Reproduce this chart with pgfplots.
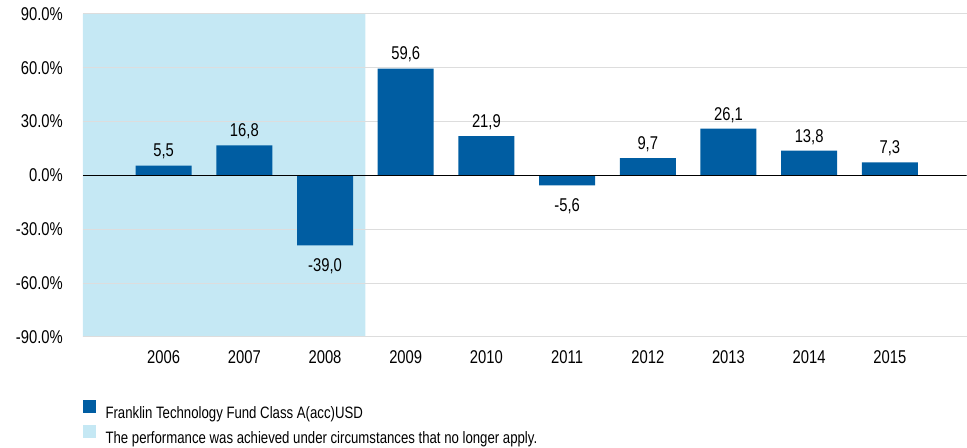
\documentclass[border=0pt]{standalone}
\usepackage{pgfplots}
\pgfplotsset{compat=1.18}
\usepackage{fontspec}
\setmainfont{Liberation Sans}[FakeStretch=0.8]
\definecolor{barblue}{HTML}{005DA2}
\definecolor{lightshade}{HTML}{C5E8F4}
\definecolor{gridgray}{HTML}{DDDDDD}
\newcommand{\lblfont}{\fontsize{18.5}{21}\selectfont}
\begin{document}
\begin{tikzpicture}
\path (0,0) rectangle (967pt,448pt);
\begin{axis}[
  set layers,
  at={(83pt,111pt)}, anchor=south west,
  scale only axis, width=884pt, height=323pt,
  xmin=-1, xmax=9.95, ymin=-90, ymax=90,
  axis line style={draw=none},
  ytick={-90,-60,-30,0,30,60,90},
  yticklabels={-90.0\%,-60.0\%,-30.0\%,0.0\%,30.0\%,60.0\%,90.0\%},
  xtick={0,1,2,3,4,5,6,7,8,9},
  xticklabels={2006,2007,2008,2009,2010,2011,2012,2013,2014,2015},
  major tick length=0pt,
  ymajorgrids, grid style={gridgray, line width=1pt},
  tick label style={font=\lblfont, inner sep=0pt},
  yticklabel style={anchor=east, xshift=-20pt},
  xticklabel style={anchor=north, yshift=-14pt},
  legend cell align=left,
  legend style={at={(0,0)}, anchor=north west, yshift=-63.5pt,
    draw=none, fill=none, inner sep=0pt, row sep=5.5pt,
    font=\fontsize{16.5}{19}\selectfont,
    nodes={inner sep=0pt},
    /tikz/every odd column/.append style={column sep=10pt}},
]
\addplot[on layer=axis background, fill=lightshade, draw=none, forget plot]
  coordinates {(-1,-90) (2.5,-90) (2.5,90) (-1,90) (-1,-90)};
\addplot[ybar, bar width=56pt, bar shift=0pt, fill=barblue, draw=none, forget plot,
  nodes near coords, point meta=explicit symbolic,
  every node near coord/.append style={font=\lblfont, anchor=south, inner sep=0pt, yshift=6pt, black}]
  coordinates {(0,5.5) [5,5] (1,16.8) [16,8] (3,59.6) [59,6]
    (4,21.9) [21,9] (6,9.7) [9,7] (7,26.1) [26,1]
    (8,13.8) [13,8] (9,7.3) [7,3]};
\addplot[ybar, bar width=56pt, bar shift=0pt, fill=barblue, draw=none, forget plot,
  nodes near coords, point meta=explicit symbolic,
  every node near coord/.append style={font=\lblfont, anchor=north, inner sep=0pt, yshift=-13pt, black}]
  coordinates {(2,-39.0) [-39,0] (5,-5.6) [-5,6]};
\addplot[black, line width=1pt, forget plot] coordinates {(-1,0) (9.95,0)};
\addlegendimage{legend image code/.code={\fill[barblue] (0pt,0.5pt) rectangle (12pt,12.5pt);}}
\addlegendentry{Franklin Technology Fund Class A(acc)USD}
\addlegendimage{legend image code/.code={\fill[lightshade] (0pt,0.5pt) rectangle (12pt,12.5pt);}}
\addlegendentry{The performance was achieved under circumstances that no longer apply.}
\end{axis}
\end{tikzpicture}
\end{document}
